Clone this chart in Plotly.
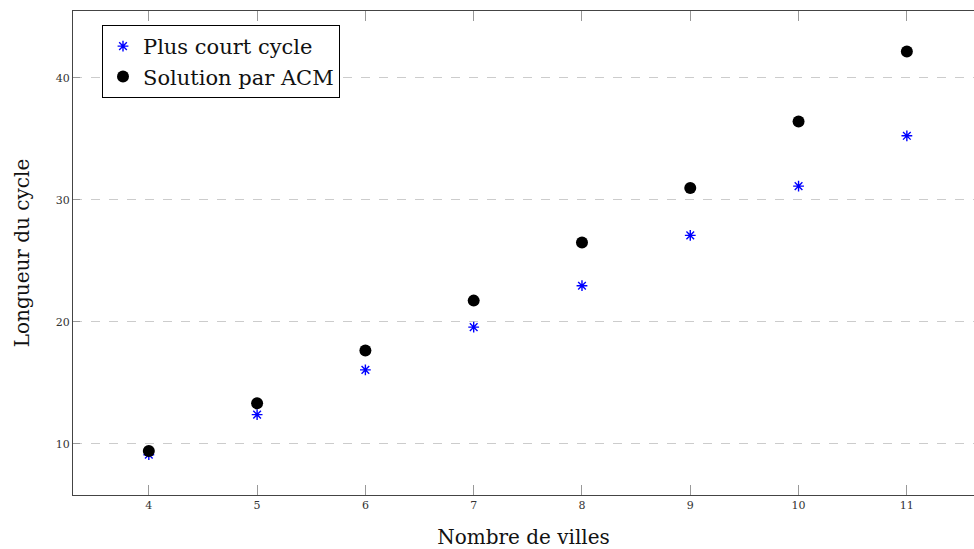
import plotly.graph_objects as go

villes = [4, 5, 6, 7, 8, 9, 10, 11]
plus_court = [9.12, 12.40, 16.07, 19.57, 22.96, 27.08, 31.12, 35.24]
acm = [9.43, 13.33, 17.65, 21.74, 26.50, 30.96, 36.41, 42.15]
y_ticks = [10, 20, 30, 40]

font_fam = "DejaVu Serif, Liberation Serif, serif"

fig = go.Figure()
fig.add_trace(go.Scatter(
    x=villes, y=plus_court, mode="markers", name="Plus court cycle",
    marker=dict(symbol="asterisk-open", size=9, color="#0000ff",
                line=dict(color="#0000ff", width=1.4)),
))
fig.add_trace(go.Scatter(
    x=villes, y=acm, mode="markers", name="Solution par ACM",
    marker=dict(symbol="circle", size=12, color="black"),
))

fig.update_layout(
    width=974, height=549, autosize=False,
    margin=dict(l=73, r=0, t=11, b=54),
    plot_bgcolor="white", paper_bgcolor="white",
    font=dict(family=font_fam, color="#222"),
    showlegend=True,
    legend=dict(
        x=(102 - 73) / (974 - 73), y=1 - (25 - 11) / (495 - 11),
        xanchor="left", yanchor="top",
        bgcolor="white", bordercolor="black", borderwidth=1,
        font=dict(family=font_fam, size=21, color="#111"),
        itemwidth=30, tracegroupgap=0,
    ),
    xaxis=dict(
        range=[3.3, 11.62], tickvals=villes, ticktext=[str(v) for v in villes],
        showgrid=False, zeroline=False,
        showline=True, linecolor="#444", linewidth=1.3, mirror="ticks",
        ticks="inside", ticklen=10, tickcolor="#999", tickwidth=1,
        tickfont=dict(family=font_fam, size=11, color="#333"),
        title=dict(text="Nombre de villes", standoff=18,
                   font=dict(family=font_fam, size=20, color="#111")),
    ),
    yaxis=dict(
        range=[5.82, 45.46], tickvals=y_ticks, ticktext=[str(v) for v in y_ticks],
        showgrid=True, gridcolor="#cccccc", griddash="dash", gridwidth=1,
        zeroline=False,
        showline=True, linecolor="#444", linewidth=1.3,
        ticks="inside", ticklen=7, tickcolor="#999", tickwidth=1,
        tickfont=dict(family=font_fam, size=11, color="#333"),
        title=dict(text="Longueur du cycle", standoff=20,
                   font=dict(family=font_fam, size=20, color="#111")),
    ),
)

fig.write_html(
    "out.html",
    config={"displayModeBar": False},
    post_script="document.body.style.margin='0';document.body.style.overflow='hidden';",
)
